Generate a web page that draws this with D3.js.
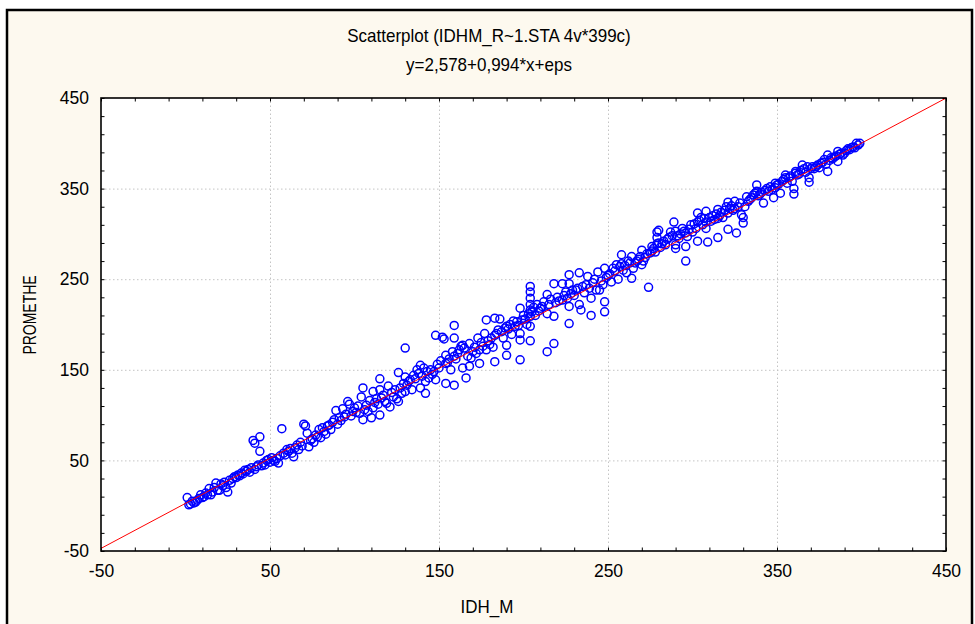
<!DOCTYPE html>
<html>
<head>
<meta charset="utf-8">
<script src="https://cdn.jsdelivr.net/npm/d3@7"></script>
<style>
  body { margin: 0; background: #fff; }
  svg text { font-family: "Liberation Sans", Arial, sans-serif; fill: #000; }
</style>
</head>
<body>
<svg id="chart" width="975" height="624"></svg>
<script>
// chart texts
var title1 = "Scatterplot (IDHM_R~1.STA 4v*399c)";
var title2 = "y=2,578+0,994*x+eps";
var xLabel = "IDH_M";
var yLabel = "PROMETHE";

// axis ticks
var majorTicks = [-50, 50, 150, 250, 350, 450];
var gridTicks = [50, 150, 250, 350];
var minorTicks = d3.range(-50, 451, 20);

// fitted line  y = a + b*x
var intercept = 2.578;
var slope = 0.994;

// cases (IDH_M rank, PROMETHE rank)
var idhm = [
  1,2,3,4,5,6,7,8,9,10,
  11,12,13,14,15,16,17,18,19,20,
  21,22,23,24,25,26,27,28,29,30,
  31,32,33,34,35,36,37,38,39,40,
  41,41,42,43,44,44,45,46,47,48,49,50,
  51,52,53,54,55,56,57,58,59,60,
  61,62,63,64,65,66,67,68,69,70,
  71,72,73,74,75,76,77,78,79,80,
  81,82,83,84,85,86,87,88,89,90,
  91,92,93,94,95,96,97,98,99,100,
  101,102,103,104,105,105,106,107,108,109,110,
  111,111,112,113,114,115,115,115,116,117,118,119,120,
  121,122,123,124,125,126,126,127,128,129,130,130,130,
  131,132,133,134,135,136,137,138,139,139,
  140,141,142,142,143,144,145,146,147,148,148,149,150,
  151,152,153,154,154,154,155,156,157,158,159,159,159,159,160,
  161,162,163,164,164,165,166,167,168,168,169,170,
  171,172,173,174,174,175,176,177,178,178,179,180,
  181,182,183,183,183,184,185,186,187,188,189,190,190,190,
  191,192,193,194,195,196,197,198,198,198,198,199,200,
  201,202,203,204,204,204,204,204,204,204,204,205,206,207,208,209,210,
  211,212,214,214,214,215,216,218,218,218,219,220,
  221,223,223,224,225,226,227,227,227,227,228,229,230,
  231,232,233,233,234,235,236,237,238,239,240,240,
  241,242,243,244,245,246,247,248,248,248,249,250,
  251,252,253,254,255,256,257,258,258,259,260,
  261,262,263,264,264,265,266,267,268,269,270,270,
  271,272,273,274,275,276,276,277,278,279,279,279,280,280,
  281,282,283,284,285,286,287,288,289,290,290,290,
  291,292,293,294,295,296,296,296,297,298,299,300,
  301,302,303,303,303,304,305,306,307,308,308,308,309,310,
  311,312,313,314,315,315,315,316,317,318,319,320,
  321,321,321,322,323,324,325,325,326,327,328,329,330,330,
  331,332,333,334,335,336,337,338,338,339,340,
  341,342,343,344,345,346,347,348,349,349,350,
  351,352,353,354,355,355,356,357,358,359,360,360,
  361,361,362,363,364,365,366,367,368,369,369,370,
  371,372,373,374,375,376,377,378,379,380,380,
  381,382,383,384,385,386,386,387,388,389,390,
  391,392,393,394,395,396,397,398,399
];
var promethe = [
  9,1,2,5,3,4,6,8,12,9,
  10,14,12,19,12,15,20,25,17,17,
  24,22,26,20,15,28,25,30,32,31,
  34,33,36,35,39,38,40,37,42,72,
  69,40,43,45,76,60,44,47,45,50,51,48,
  53,50,49,52,47,55,85,58,56,62,
  60,63,58,54,64,67,62,70,66,90,
  88,80,65,72,74,70,78,76,84,75,
  86,82,79,88,89,84,92,95,105,90,
  97,94,107,98,101,115,112,99,104,108,
  103,110,102,120,130,95,106,111,104,116,97,
  108,126,114,118,112,140,128,100,119,122,115,113,132,
  109,125,120,128,118,147,115,130,124,135,174,142,126,
  133,137,139,128,144,140,150,146,155,130,
  143,152,137,124,148,141,150,145,148,188,139,156,152,
  160,186,184,166,157,135,158,162,150,170,199,185,165,133,162,
  168,172,176,177,152,174,141,165,179,154,163,170,
  175,168,185,172,157,180,176,190,205,172,182,178,
  185,175,207,188,159,190,194,206,192,185,196,198,177,166,
  195,200,189,204,198,203,199,218,190,183,161,205,210,
  206,200,212,242,236,229,222,216,209,198,182,214,219,210,222,215,218,
  220,225,233,212,170,222,228,245,209,179,224,230,
  226,227,245,232,236,229,255,245,220,201,234,238,232,
  238,240,257,222,216,242,235,244,253,240,229,210,
  246,250,238,258,238,248,244,262,225,214,252,254,
  256,247,262,259,266,250,264,277,267,260,265,
  257,270,268,275,251,262,268,270,272,275,282,266,
  270,274,278,241,279,286,281,284,280,302,296,289,304,290,
  285,289,292,288,294,296,302,298,313,303,288,284,
  298,295,300,306,303,301,286,270,297,305,310,302,
  311,306,323,313,292,315,318,310,317,325,313,306,291,318,
  314,320,316,322,327,317,296,320,324,318,326,330,
  335,323,305,328,331,326,336,328,301,330,334,321,312,318,
  330,341,336,338,340,343,345,354,347,342,344,
  346,334,348,350,347,352,349,340,356,351,354,
  355,345,358,360,365,362,356,362,364,358,350,344,
  369,367,365,366,370,376,372,368,374,357,362,372,
  374,372,374,376,373,378,379,382,377,387,369,
  381,384,383,385,386,391,380,388,389,387,389,
  392,394,393,395,396,395,400,398,400
];

var svg = d3.select("#chart");
var plot = { left: 101, right: 946, top: 98, bottom: 551 };
var fontStack = "'Liberation Sans', Arial, sans-serif";

// outer cream panel with black frame
svg.append("rect")
  .attr("x", 7).attr("y", 10)
  .attr("width", 965).attr("height", 660)
  .attr("fill", "#fdf9ef")
  .attr("stroke", "#000")
  .attr("stroke-width", 2.5);

var x = d3.scaleLinear().domain([-50, 450]).range([plot.left, plot.right]);
var y = d3.scaleLinear().domain([-50, 450]).range([plot.bottom, plot.top]);
var pw = plot.right - plot.left, ph = plot.bottom - plot.top;

svg.append("rect")
  .attr("x", plot.left).attr("y", plot.top)
  .attr("width", pw).attr("height", ph)
  .attr("fill", "#fff");

// dotted grid
var gx = svg.append("g")
  .attr("transform", "translate(0," + plot.bottom + ")")
  .call(d3.axisBottom(x).tickValues(gridTicks).tickSize(-ph).tickFormat(""));
var gy = svg.append("g")
  .attr("transform", "translate(" + plot.left + ",0)")
  .call(d3.axisLeft(y).tickValues(gridTicks).tickSize(-pw).tickFormat(""));
[gx, gy].forEach(function(g) {
  g.select(".domain").remove();
  g.selectAll("line").attr("stroke", "#c4c4c4").attr("stroke-dasharray", "1.5,2.5");
});

// small inward ticks on all four sides
var tickLen = 3.5;
var sides = [
  [d3.axisBottom(x), "translate(0," + plot.bottom + ")"],
  [d3.axisTop(x), "translate(0," + plot.top + ")"],
  [d3.axisLeft(y), "translate(" + plot.left + ",0)"],
  [d3.axisRight(y), "translate(" + plot.right + ",0)"]
];
sides.forEach(function(s) {
  var g = svg.append("g").attr("transform", s[1])
    .call(s[0].tickValues(minorTicks).tickSize(-tickLen).tickFormat(""));
  g.select(".domain").remove();
  g.selectAll("line").attr("stroke", "#000").attr("stroke-width", 1);
});

// tick labels (plain hyphen for negatives)
var fmt = function(d) { return String(d); };
var xa = svg.append("g")
  .attr("transform", "translate(0," + plot.bottom + ")")
  .call(d3.axisBottom(x).tickValues(majorTicks).tickSize(0).tickPadding(14).tickFormat(fmt));
var ya = svg.append("g")
  .attr("transform", "translate(" + plot.left + ",0)")
  .call(d3.axisLeft(y).tickValues(majorTicks).tickSize(0).tickPadding(12).tickFormat(fmt));
[xa, ya].forEach(function(g) {
  g.select(".domain").remove();
  g.selectAll("text")
    .style("font-family", fontStack)
    .style("font-size", "17.5px")
    .attr("fill", "#000");
});

// points
svg.append("g")
  .selectAll("circle")
  .data(d3.range(idhm.length))
  .join("circle")
  .attr("cx", function(i) { return x(idhm[i]); })
  .attr("cy", function(i) { return y(promethe[i]); })
  .attr("r", 4.0)
  .attr("fill", "none")
  .attr("stroke", "#0000ff")
  .attr("stroke-width", 1.5);

// regression line
svg.append("line")
  .attr("x1", x(-50)).attr("y1", y(intercept + slope * -50))
  .attr("x2", x(450)).attr("y2", y(intercept + slope * 450))
  .attr("stroke", "#ff0000")
  .attr("stroke-width", 1);

// plot frame
svg.append("rect")
  .attr("x", plot.left).attr("y", plot.top)
  .attr("width", pw).attr("height", ph)
  .attr("fill", "none")
  .attr("stroke", "#000")
  .attr("stroke-width", 1.6);

// titles
svg.append("text")
  .attr("transform", "translate(489,42) scale(1,1.08)")
  .attr("text-anchor", "middle")
  .style("font-size", "17px")
  .text(title1);
svg.append("text")
  .attr("transform", "translate(489,71) scale(1,1.08)")
  .attr("text-anchor", "middle")
  .style("font-size", "17px")
  .text(title2);

// axis titles
svg.append("text")
  .attr("transform", "translate(487,613) scale(1,1.08)")
  .attr("text-anchor", "middle")
  .style("font-size", "17px")
  .text(xLabel);
svg.append("text")
  .attr("transform", "translate(36,315) rotate(-90) scale(1,1.3)")
  .attr("text-anchor", "middle")
  .style("font-size", "14px")
  .text(yLabel);
</script>
</body>
</html>
